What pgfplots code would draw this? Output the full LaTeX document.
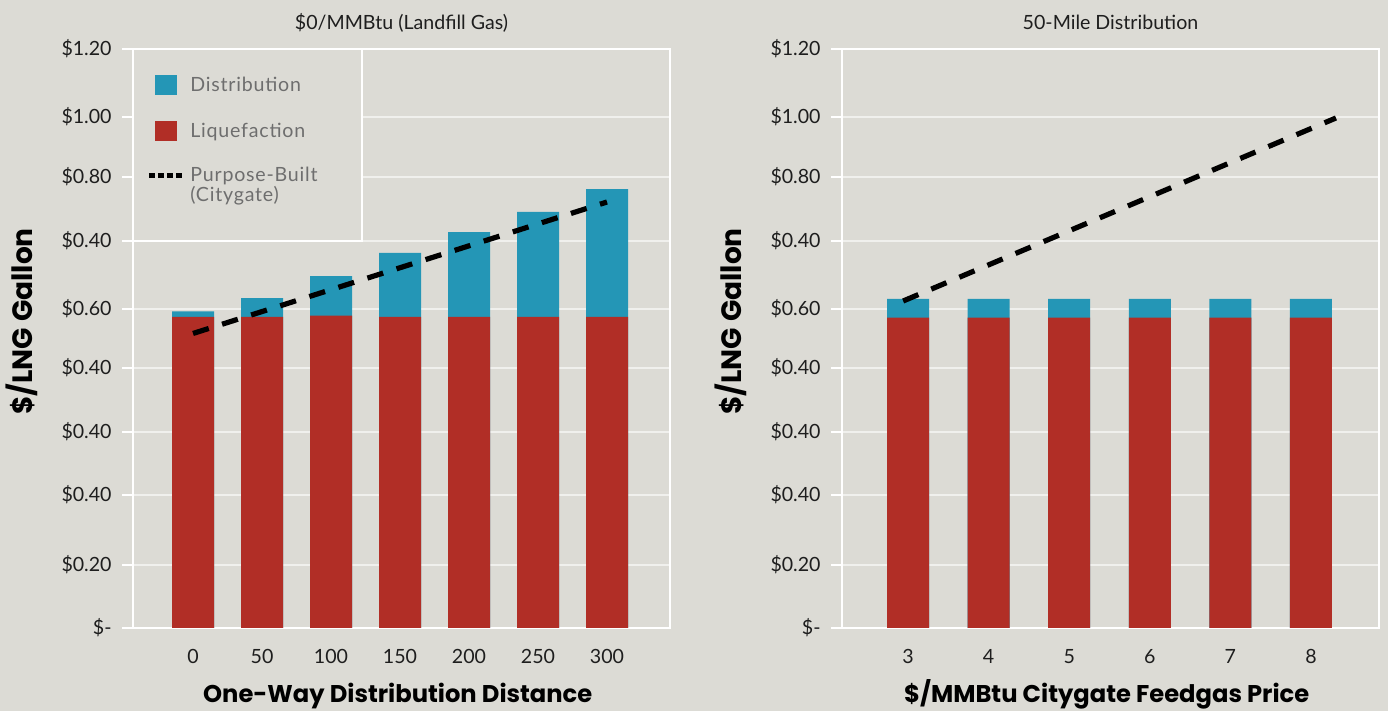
\documentclass[border=0pt]{standalone}
\usepackage{pgfplots}
\pgfplotsset{compat=1.18}
\usepackage{fontspec}
\setmainfont{Lato}
\newfontfamily\legfont[LetterSpace=4]{Lato}
\newfontfamily\labfont{Poppins}
\definecolor{bg}{RGB}{220,219,213}
\definecolor{liqred}{RGB}{177,46,38}
\definecolor{distblue}{RGB}{36,150,182}
\definecolor{gridc}{RGB}{240,240,237}
\definecolor{legtext}{RGB}{110,110,110}
\definecolor{ticktext}{RGB}{30,30,30}
\pgfplotsset{
  panel/.style={
    scale only axis, width=268.5pt, height=289.5pt,
    ymin=0, ymax=1.2,
    enlarge x limits=false, enlarge y limits=false,
    ytick={0,0.1306,0.2756,0.4062,0.5389,0.6611,0.8021,0.9347,1.0591,1.2},
    yticklabels={\$-,\$0.20,\$0.40,\$0.40,\$0.40,\$0.60,\$0.40,\$0.80,\$1.00,\$1.20},
    axis line style={white, line width=1pt},
    ymajorgrids, major grid style={gridc, line width=0.8pt},
    tick align=outside, major tick length=5.5pt,
    ytick pos=left,
    ytick style={white, line width=0.8pt},
    xtick style={draw=none},
    tick label style={font=\fontsize{9.8}{11}\selectfont, text=ticktext},
    yticklabel style={anchor=east, inner sep=0pt, xshift=-5pt},
    xticklabel style={anchor=base, inner sep=0pt, yshift=-12.35pt},
    ybar, bar width=21pt, bar shift=0pt,
    title style={at={(axis description cs:0.5,1.0138)}, anchor=base, font=\fontsize{9.8}{11}\selectfont, text=ticktext, inner sep=0pt},
    xlabel style={at={(axis description cs:0.493,-0.1295)}, anchor=base, font=\labfont\fontsize{12.1}{14}\selectfont\bfseries, inner sep=0pt},
    ylabel style={at={(axis description cs:-0.1876,0.5294)}, anchor=base, font=\labfont\fontsize{14}{16}\selectfont\bfseries, inner sep=0pt},
    ylabel={\$/LNG Gallon},
  },
  costline/.style={sharp plot, black, line width=2.6pt, dash pattern=on 8.25pt off 7pt, no markers},
}
\begin{document}
\begin{tikzpicture}
\fill[bg] (0,0) rectangle (694pt,355.5pt);
% Left panel: $0/MMBtu (Landfill Gas)
\begin{axis}[panel,
  at={(66.5pt,41.5pt)}, anchor=south west,
  xmin=-0.87, xmax=6.913,
  xtick={0,1,2,3,4,5,6}, xticklabels={0,50,100,150,200,250,300},
  title={\$0/MMBtu (Landfill Gas)},
  xlabel={One-Way Distribution Distance},
  legend cell align=left,
  legend style={draw=none, fill=none, inner sep=0pt,
    at={(axis description cs:0.0242,0.9551)}, anchor=north west,
    row sep=13pt, column sep=2.5pt,
    font=\legfont\fontsize{9.8}{10}\selectfont, text=legtext,
    nodes={inner sep=0pt, align=left}},
]
\draw[white, line width=1pt, fill=bg] (rel axis cs:0,1) rectangle (rel axis cs:0.4264,0.6684);
\addlegendimage{legend image code/.code={\path[draw=none, fill=none] (0pt,0pt) -- (17pt,0pt); \fill[distblue, draw=none] (3pt,-5pt) rectangle (14pt,5pt);}}
\addlegendentry{Distribution}
\addlegendimage{legend image code/.code={\path[draw=none, fill=none] (0pt,0pt) -- (17pt,0pt); \fill[liqred, draw=none] (3pt,-5pt) rectangle (14pt,5pt);}}
\addlegendentry{Liquefaction}
\addlegendimage{legend image code/.code={\path[draw=none, fill=none] (0pt,-5.25pt) -- (17pt,-5.25pt); \draw[black, line width=2.5pt, dash pattern=on 3pt off 1.5pt] (0pt,5.25pt) -- (17pt,5.25pt);}}
\addlegendentry{Purpose-Built\\(Citygate)}
% total (liquefaction + distribution) height: blue part
\addplot[fill=distblue, draw=none, forget plot] coordinates {(0,0.6560) (1,0.6839) (2,0.7295) (3,0.7772) (4,0.8207) (5,0.8622) (6,0.9098)};
% liquefaction
\addplot[fill=liqred, draw=none, forget plot] coordinates {(0,0.6446) (1,0.6446) (2,0.6473) (3,0.6446) (4,0.6446) (5,0.6446) (6,0.6446)};
% purpose-built (citygate)
\addplot[costline, forget plot] coordinates {(0,0.6104) (6,0.8829)};
\end{axis}
% Right panel: 50-Mile Distribution
\begin{axis}[panel,
  at={(421pt,41.5pt)}, anchor=south west,
  xmin=2.181, xmax=8.844,
  xtick={3,4,5,6,7,8}, xticklabels={3,4,5,6,7,8},
  title={50-Mile Distribution},
  xlabel={\$/MMBtu Citygate Feedgas Price},
]
\addplot[fill=distblue, draw=none] coordinates {(3,0.6819) (4,0.6819) (5,0.6819) (6,0.6819) (7,0.6819) (8,0.6819)};
\addplot[fill=liqred, draw=none] coordinates {(3,0.6435) (4,0.6435) (5,0.6435) (6,0.6435) (7,0.6435) (8,0.6435)};
\addplot[costline] coordinates {(2.94,0.6777) (8.31,1.057)};
\end{axis}
\pgfresetboundingbox
\path (0,0) rectangle (694pt,355.5pt);
\end{tikzpicture}
\end{document}
